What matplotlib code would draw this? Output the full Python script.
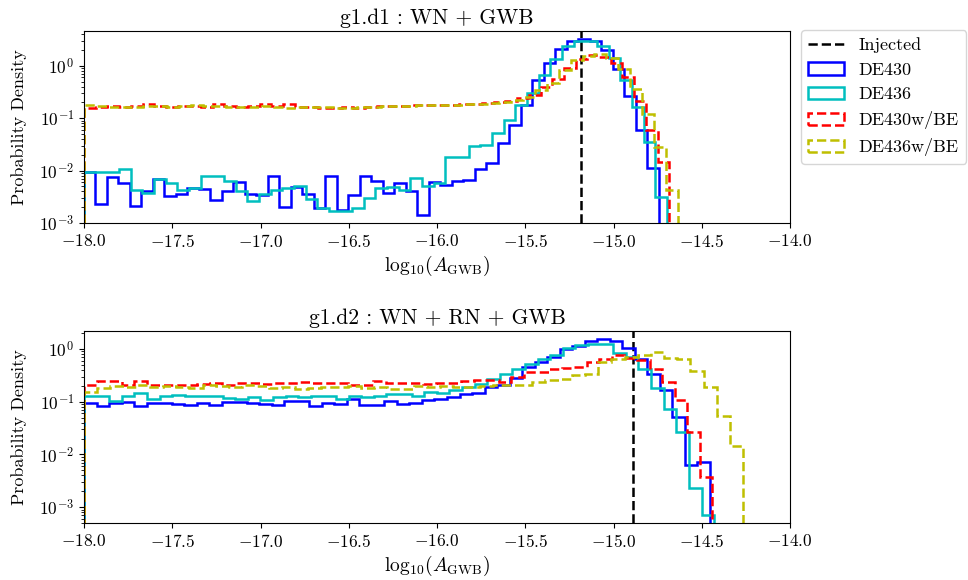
import numpy as np
import matplotlib
matplotlib.use("Agg")
import matplotlib.pyplot as plt

plt.rcParams['font.family'] = 'serif'
plt.rcParams['font.serif'] = ['cmr10']
plt.rcParams['mathtext.fontset'] = 'cm'
plt.rcParams['axes.formatter.use_mathtext'] = True

# g1.d1 : WN + GWB  -- 50 bins per run, range (lo, hi)
d1_ranges = {"DE430": (-18.0, -14.744), "DE436": (-18.0, -14.697),
             "DE430w/BE": (-18.0, -14.684), "DE436w/BE": (-18.0, -14.637)}
d1_de430 = [0.0094, 0.0023, 0.0074, 0.0059, 0.0021, 0.0041, 0.0068, 0.0033, 0.0036, 0.0047,
            0.0044, 0.0028, 0.0041, 0.0060, 0.0036, 0.0034, 0.0078, 0.0020, 0.0049, 0.0036,
            0.0019, 0.0078, 0.0018, 0.0034, 0.0078, 0.0063, 0.0037, 0.0059, 0.0040, 0.00145,
            0.0060, 0.0052, 0.0063, 0.0065, 0.0106, 0.0141, 0.034, 0.074, 0.177, 0.53,
            1.14, 2.05, 2.96, 3.23, 2.96, 2.0, 0.85, 0.27, 0.060, 0.0112]
d1_de436 = [0.0094, 0.0094, 0.0096, 0.0105, 0.0042, 0.0038, 0.0068, 0.0059, 0.0042, 0.0046,
            0.0078, 0.0078, 0.0062, 0.0041, 0.0026, 0.0035, 0.0042, 0.0047, 0.0050, 0.0029,
            0.0019, 0.0017, 0.0017, 0.0019, 0.0030, 0.0046, 0.0049, 0.0042, 0.0071, 0.0051,
            0.0059, 0.018, 0.018, 0.0296, 0.031, 0.051, 0.094, 0.177, 0.30, 0.66,
            1.34, 2.38, 2.96, 3.0, 2.35, 1.38, 0.54, 0.165, 0.035, 0.0031]
d1_de430be = [0.158, 0.165, 0.17, 0.163, 0.168, 0.19, 0.172, 0.165, 0.168, 0.17,
              0.165, 0.19, 0.17, 0.165, 0.168, 0.19, 0.172, 0.185, 0.165, 0.16,
              0.158, 0.155, 0.16, 0.158, 0.165, 0.17, 0.168, 0.172, 0.175, 0.178,
              0.18, 0.178, 0.185, 0.19, 0.195, 0.2, 0.21, 0.245, 0.28, 0.40,
              0.55, 0.92, 1.35, 1.6, 1.49, 1.12, 0.6, 0.21, 0.059, 0.0147]
d1_de436be = [0.177, 0.17, 0.165, 0.16, 0.165, 0.17, 0.168, 0.165, 0.172, 0.175,
              0.168, 0.172, 0.165, 0.16, 0.165, 0.168, 0.16, 0.158, 0.16, 0.163,
              0.165, 0.155, 0.158, 0.162, 0.165, 0.168, 0.17, 0.172, 0.175, 0.178,
              0.18, 0.182, 0.185, 0.19, 0.195, 0.2, 0.22, 0.255, 0.34, 0.46,
              0.83, 1.28, 1.55, 1.65, 1.38, 0.85, 0.36, 0.12, 0.028, 0.0042]

# g1.d2 : WN + RN + GWB
d2_ranges = {"DE430": (-18.0, -14.454), "DE436": (-18.0, -14.43),
             "DE430w/BE": (-18.0, -14.44), "DE436w/BE": (-18.0, -14.265)}
d2_de430 = [0.096, 0.083, 0.096, 0.099, 0.082, 0.095, 0.096, 0.092, 0.086, 0.096,
            0.086, 0.099, 0.099, 0.095, 0.089, 0.086, 0.102, 0.102, 0.082, 0.096,
            0.089, 0.111, 0.086, 0.086, 0.102, 0.092, 0.096, 0.106, 0.111, 0.123,
            0.138, 0.146, 0.19, 0.21, 0.286, 0.455, 0.58, 0.71, 0.99, 1.14,
            1.42, 1.53, 1.4, 1.05, 0.64, 0.33, 0.17, 0.051, 0.0064, 0.0072]
d2_de436 = [0.128, 0.128, 0.102, 0.127, 0.149, 0.111, 0.127, 0.136, 0.127, 0.127,
            0.127, 0.118, 0.111, 0.123, 0.107, 0.123, 0.127, 0.121, 0.13, 0.13,
            0.115, 0.128, 0.123, 0.128, 0.138, 0.138, 0.128, 0.153, 0.149, 0.165,
            0.19, 0.22, 0.27, 0.33, 0.42, 0.53, 0.64, 0.78, 1.05, 1.18,
            1.23, 1.26, 0.85, 0.72, 0.42, 0.18, 0.072, 0.027, 0.0023, 0.0007]
d2_de430be = [0.205, 0.244, 0.244, 0.205, 0.244, 0.21, 0.21, 0.21, 0.21, 0.215,
              0.225, 0.205, 0.23, 0.23, 0.217, 0.23, 0.23, 0.235, 0.23, 0.23,
              0.23, 0.21, 0.21, 0.244, 0.23, 0.23, 0.23, 0.22, 0.23, 0.23,
              0.25, 0.26, 0.26, 0.24, 0.295, 0.36, 0.37, 0.42, 0.44, 0.46,
              0.58, 0.64, 0.76, 0.67, 0.61, 0.41, 0.24, 0.11, 0.027, 0.0037]
d2_de436be = [0.155, 0.183, 0.196, 0.19, 0.205, 0.19, 0.196, 0.19, 0.185, 0.205,
              0.196, 0.19, 0.205, 0.196, 0.183, 0.19, 0.177, 0.185, 0.19, 0.19,
              0.196, 0.183, 0.19, 0.177, 0.172, 0.2, 0.19, 0.2, 0.19, 0.19,
              0.196, 0.205, 0.205, 0.21, 0.237, 0.255, 0.27, 0.32, 0.33, 0.57,
              0.64, 0.72, 0.78, 0.87, 0.68, 0.64, 0.38, 0.19, 0.054, 0.0145]

injected = {"d1": -15.183, "d2": -14.887}
labels = ["DE430", "DE436", "DE430w/BE", "DE436w/BE"]
styles = [("b", "-"), ("c", "-"), ("r", "--"), ("y", "--")]

panels = [
    ("g1.d1 : WN + GWB", d1_ranges, [d1_de430, d1_de436, d1_de430be, d1_de436be], injected["d1"], (1e-3, 4.6)),
    ("g1.d2 : WN + RN + GWB", d2_ranges, [d2_de430, d2_de436, d2_de430be, d2_de436be], injected["d2"], (5e-4, 2.2)),
]

fig = plt.figure(figsize=(9.68, 5.8), dpi=100)
ax1 = fig.add_axes([84/968, 1-223/580, 706/968, 192/580])
ax2 = fig.add_axes([84/968, 1-523/580, 706/968, 192/580])

for ax, (title, rng, series, inj, ylim) in zip([ax1, ax2], panels):
    ax.axvline(inj, color="k", ls="--", lw=1.8, label="Injected")
    for lab, vals, (c, ls) in zip(labels, series, styles):
        lo, hi = rng[lab]
        edges = np.linspace(lo, hi, len(vals) + 1)
        ax.hist(edges[:-1], bins=edges, weights=vals, histtype="step",
                color=c, ls=ls, lw=1.8, label=lab, log=True)
    ax.set_xlim(-18, -14)
    ax.set_ylim(*ylim)
    ax.set_title(title, fontsize=15.5, pad=5)
    ax.set_xlabel(r"$\mathrm{log}_{10}(A_{\rm GWB})$", fontsize=14, labelpad=3)
    ax.set_ylabel("Probability Density", fontsize=13, labelpad=9)
    ax.tick_params(labelsize=12.5)

ax1.legend(loc="upper left", bbox_to_anchor=(1.0156, 1.005), borderaxespad=0, fontsize=13)

fig.savefig("out.png", dpi=100)
